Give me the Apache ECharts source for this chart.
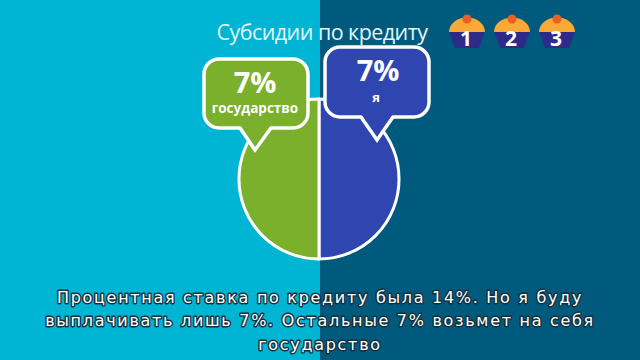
<!DOCTYPE html>
<html><head><meta charset="utf-8">
<style>html,body{margin:0;padding:0;background:#00b4d4}#c{width:640px;height:360px}
text[style*="DejaVu"]{letter-spacing:1.7px;paint-order:stroke;stroke:#12303c;stroke-width:2.8px;stroke-linejoin:round}
text[style*="21.5px"]{letter-spacing:-0.55px}
</style>
<script src="https://cdn.jsdelivr.net/npm/echarts@6/dist/echarts.min.js"></script>
</head><body><div id="c"></div>
<script>
var sliceNames = ['я', 'государство'];
var sliceValues = [7, 7];
var sliceColors = ['#2f45b0', '#7ab02c'];
var titleText = 'Субсидии по кредиту';
var stepLabels = ['1', '2', '3'];
var captionLines = [
  'Процентная ставка по кредиту была 14%. Но я буду',
  'выплачивать лишь 7%. Остальные 7% возьмет на себя',
  'государство'
];

function callout(x0, y0, x1, y1, r, a, b, tx, ty, fill) {
  return [
    { type: 'rect', z: 10, shape: { x: x0, y: y0, width: x1 - x0, height: y1 - y0, r: r },
      style: { fill: fill, stroke: '#fff', lineWidth: 3.5 } },
    { type: 'polygon', z: 11, shape: { points: [[a, y1 - 3], [tx, ty], [b, y1 - 3]] }, style: { fill: fill } },
    { type: 'polyline', z: 12, shape: { points: [[a, y1], [tx, ty], [b, y1]] },
      style: { fill: 'none', stroke: '#fff', lineWidth: 3.5, lineJoin: 'miter' } }
  ];
}
function txt(x, y, s, size, weight, extra) {
  var st = { x: x, y: y, text: s, fill: '#fff', align: 'center', verticalAlign: 'middle',
    font: weight + ' ' + size + 'px "Open Sans", sans-serif' };
  for (var k in extra) st[k] = extra[k];
  return { type: 'text', z: 20, style: st };
}

var g = [
  { type: 'rect', z: -10, shape: { x: 0, y: 0, width: 320, height: 360 }, style: { fill: '#00b4d4' } },
  { type: 'rect', z: -10, shape: { x: 320, y: 0, width: 320, height: 360 }, style: { fill: '#005a7d' } }
].concat(
  callout(204, 59, 308, 128, 15, 240, 271, 255, 150, sliceColors[1]),
  callout(325, 47, 429, 117, 15, 361, 393, 377, 140, sliceColors[0]),
  [
    txt(255, 81, sliceValues[1] + '%', 29, 'bold'),
    txt(255, 108, sliceNames[1], 13.5, 'bold'),
    txt(378, 69, sliceValues[0] + '%', 29, 'bold'),
    txt(376, 97, sliceNames[0], 13, 'bold'),
    txt(322, 31, titleText, 21.5, 'normal', { fill: '#e4f6fa' })
  ]
);

stepLabels.forEach(function (s, i) {
  var cx = 467 + i * 45;
  g.push({ type: 'polygon', z: 5, shape: { points: [[cx - 18, 31], [cx + 18, 31], [cx + 12, 48], [cx - 12, 48]] }, style: { fill: '#2e2a8a' } });
  g.push({ type: 'sector', z: 6, x: cx, y: 32, scaleY: 0.8,
    shape: { cx: 0, cy: 0, r: 18, r0: 0, startAngle: Math.PI, endAngle: Math.PI * 2 }, style: { fill: '#f9a934' } });
  g.push({ type: 'circle', z: 7, shape: { cx: cx, cy: 19, r: 4.5 }, style: { fill: '#ea5f24' } });
  g.push(txt(cx - 1, 38, s, 21, 'bold'));
});

captionLines.forEach(function (s, i) {
  g.push({ type: 'text', z: 30, style: {
    x: 320, y: 297 + i * 23.5, text: s, fill: '#fff', align: 'center', verticalAlign: 'middle',
    font: '16px "DejaVu Sans", sans-serif'
  } });
});

var chart = echarts.init(document.getElementById('c'), null, { renderer: 'svg' });
chart.setOption({
  animation: false,
  graphic: { elements: g },
  series: [{
    type: 'pie', center: [319, 179], radius: [0, 80], startAngle: 90, silent: true,
    label: { show: false }, labelLine: { show: false },
    itemStyle: { borderColor: '#fff', borderWidth: 3 },
    data: sliceValues.map(function (v, i) { return { value: v, name: sliceNames[i], itemStyle: { color: sliceColors[i] } }; })
  }]
});
</script></body></html>
